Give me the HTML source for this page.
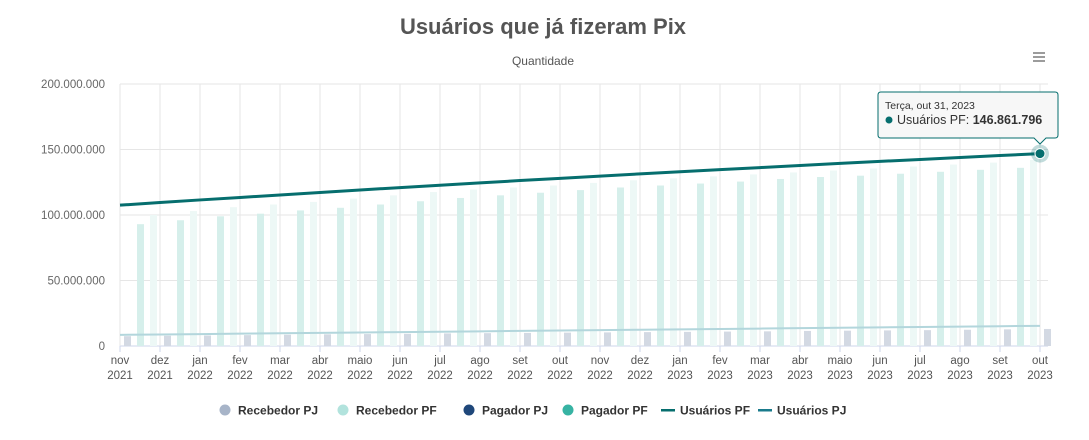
<!DOCTYPE html>
<html><head><meta charset="utf-8"><style>
body{margin:0;background:#fff;font-family:"Liberation Sans",sans-serif;}
svg text{font-family:"Liberation Sans",sans-serif;}
</style></head><body>
<svg id="chart" width="1089" height="435" xmlns="http://www.w3.org/2000/svg">
<text x="543" y="34" text-anchor="middle" font-size="22" font-weight="bold" fill="#555">Usuários que já fizeram Pix</text>
<text x="543" y="65" text-anchor="middle" font-size="12" fill="#555">Quantidade</text>
<g stroke="#666" stroke-width="1.3"><line x1="1033" y1="53" x2="1045" y2="53"/><line x1="1033" y1="57" x2="1045" y2="57"/><line x1="1033" y1="61" x2="1045" y2="61"/></g>
<g id="grid"></g><g id="bars"></g><g id="lines"></g><g id="axes"></g><g id="legend"></g><g id="tip"></g>
</svg>
<script>
const months=["nov","dez","jan","fev","mar","abr","maio","jun","jul","ago","set","out","nov","dez","jan","fev","mar","abr","maio","jun","jul","ago","set","out"];
const years=["2021","2021","2022","2022","2022","2022","2022","2022","2022","2022","2022","2022","2022","2022","2023","2023","2023","2023","2023","2023","2023","2023","2023","2023"];
const yTicks=[0,50000000,100000000,150000000,200000000];
const yTickLabels=["0","50.000.000","100.000.000","150.000.000","200.000.000"];
const recebedorPJ=[7.5,7.8,8,8.3,8.6,8.9,9.1,9.3,9.6,9.8,10,10.2,10.4,10.6,10.8,11,11.2,11.5,11.7,11.9,12.1,12.4,12.7,13];
const pagadorPF=[null,93,96,99,101,103.5,105.5,108,110.5,113,115,117,119,121,122.5,124,125.5,127.5,129,130,131.5,133,134.5,136];
const recebedorPF=[null,100,103,106,108,110,112.5,115,117.5,119.5,121,122.5,124.5,126.5,128,129.5,131,132.5,134,135.5,137,138.5,140,142];
const usuariosPF=[107.5,109.5,111.5,113.4,115.3,117.2,119.1,120.9,122.7,124.5,126.3,128.0,129.7,131.4,133.0,134.6,136.2,137.8,139.4,140.9,142.4,143.9,145.4,146.86];
const usuariosPJ=[8.5,8.8,9.1,9.4,9.7,10,10.3,10.6,10.9,11.2,11.5,11.8,12.1,12.4,12.7,13,13.3,13.6,13.9,14.2,14.5,14.8,15.1,15.4];
const NS="http://www.w3.org/2000/svg";
const X0=120,X1=1040,Y0=346,Y1=84;
const x=i=>X0+i*(X1-X0)/(months.length-1);
const y=v=>Y0-(v/200000000)*(Y0-Y1);
const ym=v=>y(v*1e6);
function mk(t,a,p){const e=document.createElementNS(NS,t);for(const k in a)e.setAttribute(k,a[k]);document.getElementById(p).appendChild(e);return e;}
yTicks.forEach((v,i)=>{
 const l=mk('line',{x1:X0,x2:1048,y1:y(v),y2:y(v),stroke:i?'#e6e6e6':'#ccd6eb'},'grid');
 
 
 const t=mk('text',{x:105,y:y(v)+4,'text-anchor':'end','font-size':'11.5',fill:'#666'},'axes');t.textContent=yTickLabels[i];
 
 
});
months.forEach((m,i)=>{
 const g=mk('line',{x1:x(i),x2:x(i),y1:Y1,y2:Y0,stroke:'#e6e6e6'},'grid');
 
 
 const tk=mk('line',{x1:x(i),x2:x(i),y1:Y0,y2:Y0+6,stroke:'#ccd6eb'},'axes');
 
 
 const t=mk('text',{x:x(i),y:364,'text-anchor':'middle','font-size':'11.5',fill:'#555'},'axes');t.textContent=m;
 
 
 const t2=mk('text',{x:x(i),y:379,'text-anchor':'middle','font-size':'11.5',fill:'#555'},'axes');t2.textContent=years[i];
 
 
});
const dx=(X1-X0)/(months.length-1);
months.forEach((m,i)=>{
 if(pagadorPF[i]!=null){
  const b=mk('rect',{x:x(i)-dx+17,y:ym(pagadorPF[i]),width:7,height:Y0-ym(pagadorPF[i]),fill:'#d6efeb'},'bars');
  
  
  const c=mk('rect',{x:x(i)-dx+30,y:ym(recebedorPF[i]),width:7,height:Y0-ym(recebedorPF[i]),fill:'#edf8f6'},'bars');
  
  
 }
 const d=mk('rect',{x:x(i)+4,y:ym(recebedorPJ[i]),width:7,height:Y0-ym(recebedorPJ[i]),fill:'#d3d9e3'},'bars');
 
 
});
const pj=mk('polyline',{points:usuariosPJ.map((v,i)=>x(i)+','+ym(v)).join(' '),fill:'none',stroke:'#b3d6dc',"stroke-width":2},'lines');


const pf=mk('polyline',{points:usuariosPF.map((v,i)=>x(i)+','+ym(v)).join(' '),fill:'none',stroke:'#066e6e',"stroke-width":3},'lines');


const last=usuariosPF.length-1;
const halo=mk('circle',{cx:x(last),cy:ym(usuariosPF[last]),r:9,fill:'#066e6e','fill-opacity':0.25},'lines');


const pt=mk('circle',{cx:x(last),cy:ym(usuariosPF[last]),r:5,fill:'#066e6e',stroke:'#fff','stroke-width':1},'lines');


const tip=mk('path',{d:'M881 92 H1055 Q1058 92 1058 95 V135 Q1058 138 1055 138 H1046 L1040 144 L1034 138 H881 Q878 138 878 135 V95 Q878 92 881 92 Z',fill:'#f7f7f7',stroke:'#066e6e','stroke-width':1},'tip');


const t1=mk('text',{x:885,y:109,'font-size':'10.5',fill:'#333'},'tip');t1.textContent='Terça, out 31, 2023';


const dot=mk('circle',{cx:889,cy:120,r:3.5,fill:'#066e6e'},'tip');


const t2=mk('text',{x:897,y:124,'font-size':'12.5',fill:'#333'},'tip');t2.innerHTML='Usuários PF: <tspan font-weight="bold">146.861.796</tspan>';


const leg=[["Recebedor PJ","#a7b4c8","c",225],["Recebedor PF","#b2e3dd","c",343],["Pagador PJ","#1f477a","c",469],["Pagador PF","#37b3a3","c",568],["Usuários PF","#066e6e","l",667],["Usuários PJ","#1a7b8c","l",764]];
leg.forEach(l=>{
 const g=document.createElementNS(NS,'g');document.getElementById('legend').appendChild(g);
 
 
 let s;
 if(l[2]=='c'){s=document.createElementNS(NS,'circle');s.setAttribute('cx',l[3]);s.setAttribute('cy',410);s.setAttribute('r',5.5);s.setAttribute('fill',l[1]);}
 else{s=document.createElementNS(NS,'rect');s.setAttribute('x',l[3]-6);s.setAttribute('y',409);s.setAttribute('width',14);s.setAttribute('height',2.5);s.setAttribute('fill',l[1]);}
 g.appendChild(s);
 const t=document.createElementNS(NS,'text');t.setAttribute('x',l[3]+13);t.setAttribute('y',414.5);t.setAttribute('font-size','12');t.setAttribute('font-weight','bold');t.setAttribute('fill','#333');t.textContent=l[0];g.appendChild(t);
});
</script>
</body></html>
